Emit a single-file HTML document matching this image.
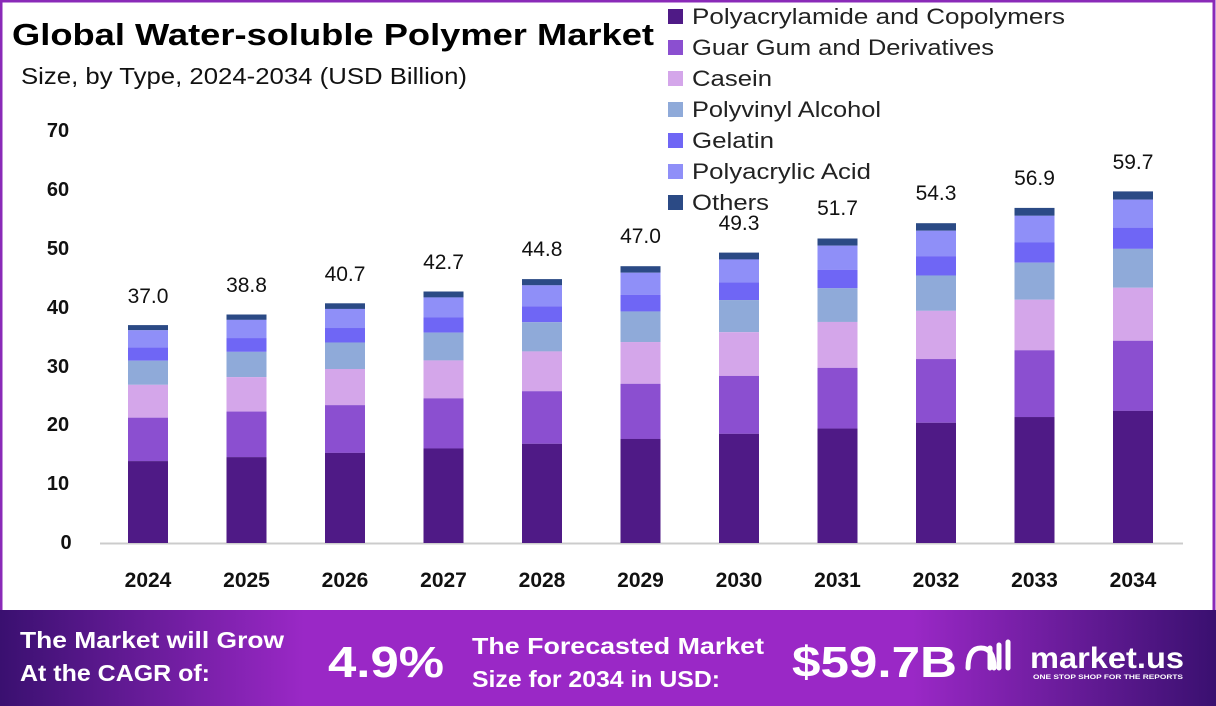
<!DOCTYPE html>
<html><head><meta charset="utf-8"><style>
body{margin:0;width:1216px;height:706px;overflow:hidden;background:#fff;font-family:"Liberation Sans",sans-serif}
</style></head><body>
<svg width="1216" height="706" viewBox="0 0 1216 706" xmlns="http://www.w3.org/2000/svg" style="display:block">
<defs>
<linearGradient id="bn" x1="0" x2="1" y1="0" y2="0">
<stop offset="0" stop-color="#3a1070"/><stop offset="0.25" stop-color="#9a28c6"/><stop offset="0.75" stop-color="#9a28c6"/><stop offset="1" stop-color="#3a1070"/>
</linearGradient>
<g id="bar">
<rect x="-20" y="-1" width="40" height="0.0236" fill="#2b4a85"/>
<rect x="-20" y="-0.9765" width="40" height="0.0797" fill="#8f8ff8"/>
<rect x="-20" y="-0.8969" width="40" height="0.0604" fill="#6f66f5"/>
<rect x="-20" y="-0.8366" width="40" height="0.1107" fill="#8faad9"/>
<rect x="-20" y="-0.726" width="40" height="0.1509" fill="#d4a6ea"/>
<rect x="-20" y="-0.5752" width="40" height="0.1994" fill="#8b4fd0"/>
<rect x="-20" y="-0.3759" width="40" height="0.3759" fill="#4f1a86"/>
</g>
</defs>
<rect x="1" y="1" width="1213" height="705" fill="none" stroke="#8a2ab8" stroke-width="3"/>
<text x="12" y="45" font-size="31" font-weight="bold" fill="#000" textLength="642" lengthAdjust="spacingAndGlyphs">Global Water-soluble Polymer Market</text>
<text x="21" y="84" font-size="23" fill="#111" textLength="446" lengthAdjust="spacingAndGlyphs">Size, by Type, 2024-2034 (USD Billion)</text>
<g font-size="22" fill="#222">
<rect x="668" y="9" width="15" height="15" fill="#4f1a86"/><text x="692" y="24" textLength="373" lengthAdjust="spacingAndGlyphs">Polyacrylamide and Copolymers</text>
<rect x="668" y="40" width="15" height="15" fill="#8b4fd0"/><text x="692" y="55" textLength="302" lengthAdjust="spacingAndGlyphs">Guar Gum and Derivatives</text>
<rect x="668" y="71" width="15" height="15" fill="#d4a6ea"/><text x="692" y="86" textLength="80" lengthAdjust="spacingAndGlyphs">Casein</text>
<rect x="668" y="102" width="15" height="15" fill="#8faad9"/><text x="692" y="117" textLength="189" lengthAdjust="spacingAndGlyphs">Polyvinyl Alcohol</text>
<rect x="668" y="133" width="15" height="15" fill="#6f66f5"/><text x="692" y="148" textLength="82" lengthAdjust="spacingAndGlyphs">Gelatin</text>
<rect x="668" y="164" width="15" height="15" fill="#8f8ff8"/><text x="692" y="179" textLength="179" lengthAdjust="spacingAndGlyphs">Polyacrylic Acid</text>
<rect x="668" y="195" width="15" height="15" fill="#2b4a85"/><text x="692" y="210" textLength="77" lengthAdjust="spacingAndGlyphs">Others</text>
</g>
<g font-size="20" font-weight="bold" fill="#111" text-anchor="middle">
<text x="58" y="137">70</text><text x="58" y="196">60</text><text x="58" y="255">50</text><text x="58" y="314">40</text>
<text x="58" y="373">30</text><text x="58" y="431">20</text><text x="58" y="490">10</text><text x="66" y="549">0</text>
</g>
<line x1="100" y1="543.5" x2="1183" y2="543.5" stroke="#ccc" stroke-width="2"/>
<use href="#bar" transform="translate(148,543) scale(1,217.9)"/>
<use href="#bar" transform="translate(246.5,543) scale(1,228.5)"/>
<use href="#bar" transform="translate(345,543) scale(1,239.7)"/>
<use href="#bar" transform="translate(443.5,543) scale(1,251.5)"/>
<use href="#bar" transform="translate(542,543) scale(1,263.9)"/>
<use href="#bar" transform="translate(640.5,543) scale(1,276.8)"/>
<use href="#bar" transform="translate(739,543) scale(1,290.4)"/>
<use href="#bar" transform="translate(837.5,543) scale(1,304.5)"/>
<use href="#bar" transform="translate(936,543) scale(1,319.8)"/>
<use href="#bar" transform="translate(1034.5,543) scale(1,335.1)"/>
<use href="#bar" transform="translate(1133,543) scale(1,351.6)"/>
<g font-size="21" fill="#111" text-anchor="middle">
<text x="148" y="303">37.0</text><text x="246.5" y="292">38.8</text><text x="345" y="281">40.7</text>
<text x="443.5" y="269">42.7</text><text x="542" y="256">44.8</text><text x="640.5" y="243">47.0</text>
<text x="739" y="230">49.3</text><text x="837.5" y="215">51.7</text><text x="936" y="200">54.3</text>
<text x="1034.5" y="185">56.9</text><text x="1133" y="169">59.7</text>
</g>
<g font-size="21" font-weight="bold" fill="#111" text-anchor="middle">
<text x="148" y="587">2024</text><text x="246.5" y="587">2025</text><text x="345" y="587">2026</text>
<text x="443.5" y="587">2027</text><text x="542" y="587">2028</text><text x="640.5" y="587">2029</text>
<text x="739" y="587">2030</text><text x="837.5" y="587">2031</text><text x="936" y="587">2032</text>
<text x="1034.5" y="587">2033</text><text x="1133" y="587">2034</text>
</g>
<rect x="0" y="610" width="1216" height="96" fill="url(#bn)"/>
<g fill="#fff" font-weight="bold">
<text x="20" y="648" font-size="23" textLength="264" lengthAdjust="spacingAndGlyphs">The Market will Grow</text>
<text x="20" y="681" font-size="23" textLength="190" lengthAdjust="spacingAndGlyphs">At the CAGR of:</text>
<text x="328" y="677" font-size="44" textLength="116" lengthAdjust="spacingAndGlyphs">4.9%</text>
<text x="472" y="654" font-size="23" textLength="292" lengthAdjust="spacingAndGlyphs">The Forecasted Market</text>
<text x="472" y="687" font-size="23" textLength="248" lengthAdjust="spacingAndGlyphs">Size for 2034 in USD:</text>
<text x="792" y="677" font-size="44" textLength="165" lengthAdjust="spacingAndGlyphs">$59.7B</text>
<text x="1030" y="668" font-size="30" textLength="154" lengthAdjust="spacingAndGlyphs">market.us</text>
<text x="1033" y="679" font-size="6.5" textLength="150" lengthAdjust="spacingAndGlyphs">ONE STOP SHOP FOR THE REPORTS</text>
</g>
<path d="M968 668 q0 -20 13 -20 q13 0 13 20 M990 648 v20 M999 645 v23 M1008 642 v26" stroke="#fff" stroke-width="5" fill="none" stroke-linecap="round"/>
</svg>
</body></html>
